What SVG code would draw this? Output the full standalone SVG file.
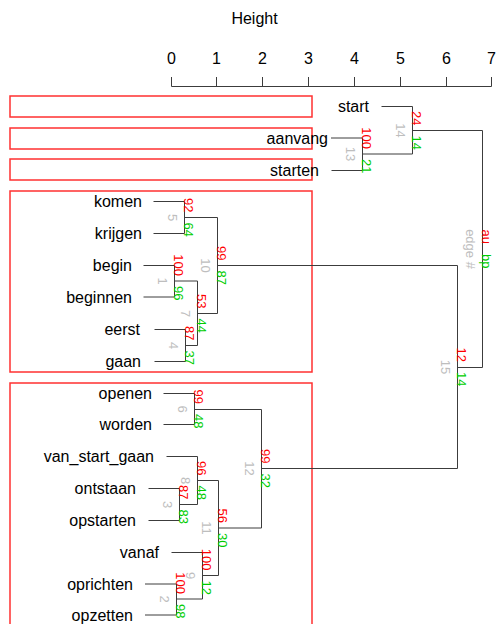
<svg xmlns="http://www.w3.org/2000/svg" width="500" height="624" viewBox="0 0 500 624">
<style>
text{font-family:"Liberation Sans",Arial,sans-serif}
.lbl{font-size:16px;fill:#000;text-anchor:end}
.ax{font-size:16px;fill:#000;text-anchor:middle}
.au{font-size:13px;fill:#ff0000;text-anchor:end}
.bp{font-size:13px;fill:#00cd00;text-anchor:start}
.ed{font-size:13px;fill:#bebebe;text-anchor:middle}
.ln{fill:none;stroke:#3c3c3c;stroke-width:1}
.box{fill:none;stroke:#ff3030;stroke-width:1.5}
</style>
<rect width="500" height="624" fill="#fff"/>
<g id="axis">
<text class="ax" x="254.5" y="24">Height</text>
<path class="ln" d="M171.5 86.5H491.5M171.5 77V86.5M216.5 77V86.5M262.5 77V86.5M308.5 77V86.5M354.5 77V86.5M400.5 77V86.5M446.5 77V86.5M491.5 77V86.5"/>
<text class="ax" x="171.5" y="63.5">0</text>
<text class="ax" x="216.5" y="63.5">1</text>
<text class="ax" x="262.5" y="63.5">2</text>
<text class="ax" x="308.5" y="63.5">3</text>
<text class="ax" x="354.5" y="63.5">4</text>
<text class="ax" x="400.5" y="63.5">5</text>
<text class="ax" x="446.5" y="63.5">6</text>
<text class="ax" x="491.5" y="63.5">7</text>
</g>
<g id="clusters">
<rect class="box" x="10" y="96" width="302" height="21"/>
<rect class="box" x="10" y="128" width="302" height="21"/>
<rect class="box" x="10" y="159" width="302" height="21"/>
<rect class="box" x="10" y="191" width="302" height="181"/>
<rect class="box" x="10" y="383" width="302" height="250"/>
</g>
<g id="connectors">
<path class="ln" d="M381.5 106.5H412.5M331.5 170.5H362.5M153.5 201.5H184.5M153.5 233.5H184.5M143.5 265.5H174.5M154.5 329.5H185.5M154.5 361.5H185.5M163.5 393.5H194.5M163.5 424.5H194.5M166.5 456.5H197.5M148.5 488.5H179.5M148.5 520.5H179.5M171.5 552.5H202.5"/>
<path class="ln" d="M331 138H362.5M143.5 297H174.5M145 584H176.5M145 615H176.5M362.5 154H412.5M174.5 281H197.5M176.5 599H202.5M218.5 528H261.5"/>
<path class="ln" d="M412.5 106.5V154M362.5 138V170.5M184.5 201.5V233.5M174.5 265.5V297M185.5 329.5V361.5M197.5 281V345.5M217.5 217.5V313.5M194.5 393.5V424.5M179.5 488.5V520.5M197.5 456.5V504.5M176.5 584V615M202.5 552.5V599M218.5 480.5V575.5M261.5 409.5V528M457.5 265.5V468.5M482.5 130.5V367.5"/>
<path class="ln" d="M412.5 130.5H482.5M184.5 217.5H217.5M185.5 345.5H197.5M197.5 313.5H217.5M217.5 265.5H457.5M194.5 409.5H261.5M179.5 504.5H197.5M197.5 480.5H218.5M202.5 575.5H218.5M261.5 468.5H457.5M457.5 367.5H482.5"/>
</g>
<g id="leaf-start"><text class="lbl" x="369" y="112">start</text></g>
<g id="leaf-aanvang"><text class="lbl" x="328" y="143.5">aanvang</text></g>
<g id="leaf-starten"><text class="lbl" x="319" y="176">starten</text></g>
<g id="leaf-komen"><text class="lbl" x="142" y="207">komen</text></g>
<g id="leaf-krijgen"><text class="lbl" x="142" y="239">krijgen</text></g>
<g id="leaf-begin"><text class="lbl" x="132" y="271">begin</text></g>
<g id="leaf-beginnen"><text class="lbl" x="132" y="302.5">beginnen</text></g>
<g id="leaf-eerst"><text class="lbl" x="140" y="335">eerst</text></g>
<g id="leaf-gaan"><text class="lbl" x="141" y="367">gaan</text></g>
<g id="leaf-openen"><text class="lbl" x="152" y="399">openen</text></g>
<g id="leaf-worden"><text class="lbl" x="152" y="430">worden</text></g>
<g id="leaf-van_start_gaan"><text class="lbl" x="154" y="462">van_start_gaan</text></g>
<g id="leaf-ontstaan"><text class="lbl" x="136" y="494">ontstaan</text></g>
<g id="leaf-opstarten"><text class="lbl" x="136" y="526">opstarten</text></g>
<g id="leaf-vanaf"><text class="lbl" x="159" y="558">vanaf</text></g>
<g id="leaf-oprichten"><text class="lbl" x="133" y="589.5">oprichten</text></g>
<g id="leaf-opzetten"><text class="lbl" x="133" y="620.5">opzetten</text></g>
<g id="node-1"><text class="au" transform="translate(173.5 276) rotate(90)">100</text><text class="bp" transform="translate(173.5 286) rotate(90)">96</text><text class="ed" transform="translate(158 281) rotate(90)">1</text></g>
<g id="node-2"><text class="au" transform="translate(175.5 594) rotate(90)">100</text><text class="bp" transform="translate(175.5 604) rotate(90)">98</text><text class="ed" transform="translate(160 599) rotate(90)">2</text></g>
<g id="node-3"><text class="au" transform="translate(178.5 499.5) rotate(90)">87</text><text class="bp" transform="translate(178.5 509.5) rotate(90)">83</text><text class="ed" transform="translate(163 504.5) rotate(90)">3</text></g>
<g id="node-4"><text class="au" transform="translate(184.5 340.5) rotate(90)">87</text><text class="bp" transform="translate(184.5 350.5) rotate(90)">37</text><text class="ed" transform="translate(169 345.5) rotate(90)">4</text></g>
<g id="node-5"><text class="au" transform="translate(183.5 212.5) rotate(90)">92</text><text class="bp" transform="translate(183.5 222.5) rotate(90)">64</text><text class="ed" transform="translate(168 217.5) rotate(90)">5</text></g>
<g id="node-6"><text class="au" transform="translate(193.5 404) rotate(90)">99</text><text class="bp" transform="translate(193.5 414) rotate(90)">48</text><text class="ed" transform="translate(178 409) rotate(90)">6</text></g>
<g id="node-7"><text class="au" transform="translate(196.5 308.5) rotate(90)">53</text><text class="bp" transform="translate(196.5 318.5) rotate(90)">44</text><text class="ed" transform="translate(181 313.5) rotate(90)">7</text></g>
<g id="node-8"><text class="au" transform="translate(196.5 475.5) rotate(90)">96</text><text class="bp" transform="translate(196.5 485.5) rotate(90)">48</text><text class="ed" transform="translate(181 480.5) rotate(90)">8</text></g>
<g id="node-9"><text class="au" transform="translate(201.5 570.5) rotate(90)">100</text><text class="bp" transform="translate(201.5 580.5) rotate(90)">12</text><text class="ed" transform="translate(186 575.5) rotate(90)">9</text></g>
<g id="node-10"><text class="au" transform="translate(216.5 260.5) rotate(90)">99</text><text class="bp" transform="translate(216.5 270.5) rotate(90)">87</text><text class="ed" transform="translate(201 265.5) rotate(90)">10</text></g>
<g id="node-11"><text class="au" transform="translate(217.5 523) rotate(90)">56</text><text class="bp" transform="translate(217.5 533) rotate(90)">30</text><text class="ed" transform="translate(202 528) rotate(90)">11</text></g>
<g id="node-12"><text class="au" transform="translate(260.5 463.5) rotate(90)">99</text><text class="bp" transform="translate(260.5 473.5) rotate(90)">32</text><text class="ed" transform="translate(245 468.5) rotate(90)">12</text></g>
<g id="node-13"><text class="au" transform="translate(361.5 149) rotate(90)">100</text><text class="bp" transform="translate(361.5 159) rotate(90)">21</text><text class="ed" transform="translate(346 154) rotate(90)">13</text></g>
<g id="node-14"><text class="au" transform="translate(411.5 125.5) rotate(90)">24</text><text class="bp" transform="translate(411.5 135.5) rotate(90)">14</text><text class="ed" transform="translate(396 130.5) rotate(90)">14</text></g>
<g id="node-15"><text class="au" transform="translate(456.5 362) rotate(90)">12</text><text class="bp" transform="translate(456.5 372) rotate(90)">14</text><text class="ed" transform="translate(441 367) rotate(90)">15</text></g>
<g id="legend"><text class="au" transform="translate(481.5 244) rotate(90)">au</text><text class="bp" transform="translate(481.5 254) rotate(90)">bp</text><text class="ed" transform="translate(466 249) rotate(90)">edge #</text></g>
</svg>
